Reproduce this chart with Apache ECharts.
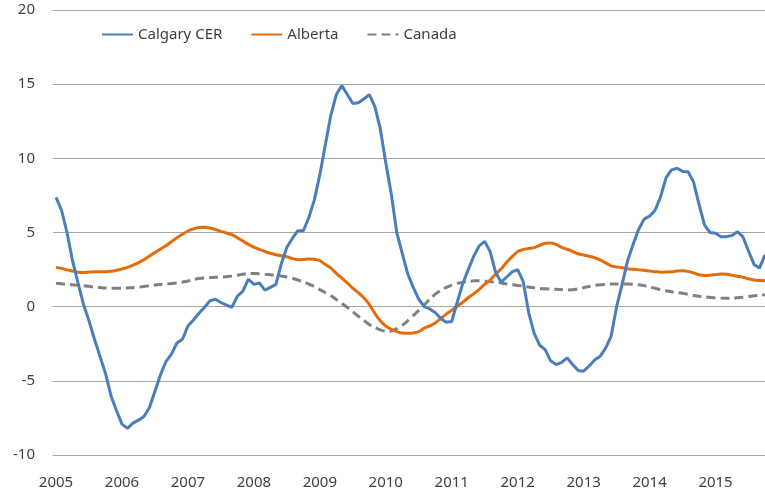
<!DOCTYPE html>
<html>
<head>
<meta charset="utf-8">
<script src="https://cdn.jsdelivr.net/npm/echarts@6/dist/echarts.min.js"></script>
<style>html,body{margin:0;padding:0;background:#fff;}#c{width:765px;height:493px;}</style>
</head>
<body>
<div id="c"></div>
<script>
const years = ['2005','2006','2007','2008','2009','2010','2011','2012','2013','2014','2015'];
const yTicks = [-10, -5, 0, 5, 10, 15, 20];
const seriesNames = ['Calgary CER', 'Alberta', 'Canada'];

const calgary = [
7.37, 6.5, 5.0, 3.1, 1.6, 0.15, -0.95, -2.2, -3.35, -4.5,
-6.0, -7.0, -7.92, -8.2, -7.85, -7.65, -7.4, -6.8, -5.7, -4.6,
-3.7, -3.2, -2.45, -2.2, -1.3, -0.9, -0.45, -0.05, 0.4, 0.5,
0.28, 0.1, -0.04, 0.7, 1.05, 1.85, 1.5, 1.6, 1.12, 1.3,
1.5, 2.9, 4.0, 4.6, 5.12, 5.12, 6.0, 7.2, 8.9, 10.9,
12.9, 14.3, 14.9, 14.3, 13.7, 13.75, 14.0, 14.3, 13.5, 12.0,
9.7, 7.6, 5.0, 3.6, 2.2, 1.3, 0.5, 0.0, -0.15, -0.4,
-0.8, -1.05, -1.0, 0.3, 1.55, 2.5, 3.4, 4.1, 4.4, 3.7,
2.3, 1.65, 2.0, 2.35, 2.5, 1.7, -0.4, -1.8, -2.6, -2.9,
-3.65, -3.9, -3.75, -3.45, -3.9, -4.3, -4.35, -4.0, -3.6, -3.35,
-2.8, -2.0, 0.0, 1.5, 3.1, 4.2, 5.2, 5.9, 6.1, 6.5,
7.4, 8.7, 9.22, 9.33, 9.12, 9.1, 8.4, 6.9, 5.5, 5.0,
4.95, 4.72, 4.72, 4.8, 5.05, 4.7, 3.75, 2.85, 2.6, 3.5
];

const alberta = [
2.65, 2.58, 2.48, 2.4, 2.32, 2.3, 2.33, 2.36, 2.36, 2.36,
2.38, 2.45, 2.55, 2.65, 2.8, 2.97, 3.17, 3.42, 3.65, 3.88,
4.1, 4.38, 4.65, 4.88, 5.1, 5.24, 5.33, 5.35, 5.3, 5.2,
5.08, 4.97, 4.85, 4.65, 4.42, 4.2, 4.02, 3.86, 3.72, 3.6,
3.5, 3.43, 3.36, 3.25, 3.17, 3.18, 3.22, 3.2, 3.1, 2.85,
2.6, 2.25, 1.92, 1.6, 1.25, 0.95, 0.6, 0.15, -0.45, -0.95,
-1.3, -1.52, -1.68, -1.78, -1.8, -1.77, -1.68, -1.45, -1.3, -1.1,
-0.8, -0.5, -0.25, 0.03, 0.3, 0.6, 0.87, 1.17, 1.5, 1.8,
2.2, 2.55, 3.0, 3.37, 3.72, 3.85, 3.92, 3.98, 4.13, 4.27,
4.3, 4.2, 4.0, 3.87, 3.72, 3.57, 3.48, 3.4, 3.3, 3.15,
2.95, 2.75, 2.68, 2.62, 2.56, 2.52, 2.48, 2.45, 2.4, 2.36,
2.32, 2.33, 2.36, 2.4, 2.42, 2.38, 2.28, 2.15, 2.1, 2.12,
2.16, 2.2, 2.18, 2.12, 2.05, 1.98, 1.88, 1.8, 1.77, 1.75
];

const canada = [
1.57, 1.54, 1.5, 1.47, 1.45, 1.42, 1.37, 1.32, 1.29, 1.26,
1.25, 1.25, 1.25, 1.26, 1.28, 1.31, 1.36, 1.41, 1.46, 1.5,
1.53, 1.56, 1.6, 1.66, 1.73, 1.83, 1.9, 1.94, 1.96, 1.98,
2.0, 2.02, 2.06, 2.12, 2.18, 2.24, 2.24, 2.22, 2.18, 2.15,
2.12, 2.07, 2.0, 1.92, 1.8, 1.68, 1.52, 1.35, 1.15, 0.95,
0.75, 0.48, 0.22, -0.05, -0.35, -0.65, -0.92, -1.2, -1.4, -1.56,
-1.66, -1.64, -1.48, -1.25, -0.95, -0.6, -0.25, 0.12, 0.5, 0.85,
1.1, 1.3, 1.45, 1.57, 1.64, 1.7, 1.74, 1.75, 1.73, 1.69,
1.65, 1.6, 1.53, 1.48, 1.43, 1.38, 1.32, 1.27, 1.23, 1.2,
1.19, 1.17, 1.15, 1.13, 1.14, 1.2, 1.28, 1.36, 1.44, 1.48,
1.5, 1.52, 1.53, 1.53, 1.53, 1.51, 1.47, 1.42, 1.33, 1.24,
1.15, 1.07, 1.0, 0.95, 0.9, 0.83, 0.75, 0.7, 0.66, 0.62,
0.6, 0.58, 0.57, 0.57, 0.6, 0.64, 0.68, 0.73, 0.77, 0.8
];

const pairs = arr => arr.map((v, i) => [i, v]);
const yearStarts = years.map((y, k) => k * 12);
const FONT = '"Noto Sans", "Open Sans", sans-serif';

const chart = echarts.init(document.getElementById('c'), null, {renderer: 'canvas'});
chart.setOption({
  animation: false,
  backgroundColor: '#ffffff',
  grid: {left: 53, right: 0, top: 10, bottom: 38, containLabel: false},
  legend: {
    data: seriesNames,
    left: 96, top: 22,
    itemWidth: 31, itemHeight: 14, itemGap: 28,
    itemStyle: {opacity: 0},
    textStyle: {fontFamily: FONT, fontSize: 15, color: '#404040'}
  },
  xAxis: {
    type: 'value',
    min: -0.55, max: 129,
    splitLine: {show: false},
    axisLine: {show: true, onZero: false, lineStyle: {color: '#a6a6a6', width: 1}},
    axisTick: {show: false},
    axisLabel: {
      customValues: yearStarts,
      formatter: v => years[Math.round(v / 12)],
      margin: 20,
      fontFamily: FONT, fontSize: 15, color: '#404040'
    }
  },
  yAxis: {
    type: 'value',
    min: -10, max: 20, interval: 5,
    axisLine: {show: false},
    axisTick: {show: false},
    splitLine: {show: true, lineStyle: {color: '#a6a6a6', width: 1}},
    axisLabel: {margin: 18, fontFamily: FONT, fontSize: 15, color: '#404040',
      customValues: yTicks}
  },
  series: [
    {name: seriesNames[0], type: 'line', data: pairs(calgary), showSymbol: false, symbol: 'none',
     lineStyle: {color: '#4a7ebb', width: 3}, itemStyle: {color: '#4a7ebb'}, z: 4},
    {name: seriesNames[1], type: 'line', data: pairs(alberta), showSymbol: false, symbol: 'none', smooth: 0.2,
     lineStyle: {color: '#e46c0a', width: 3}, itemStyle: {color: '#e46c0a'}, z: 3},
    {name: seriesNames[2], type: 'line', data: pairs(canada), showSymbol: false, symbol: 'none', smooth: 0.2,
     lineStyle: {color: '#808080', width: 3, type: [9, 5]}, itemStyle: {color: '#808080'}, z: 2}
  ]
});
</script>
</body>
</html>
